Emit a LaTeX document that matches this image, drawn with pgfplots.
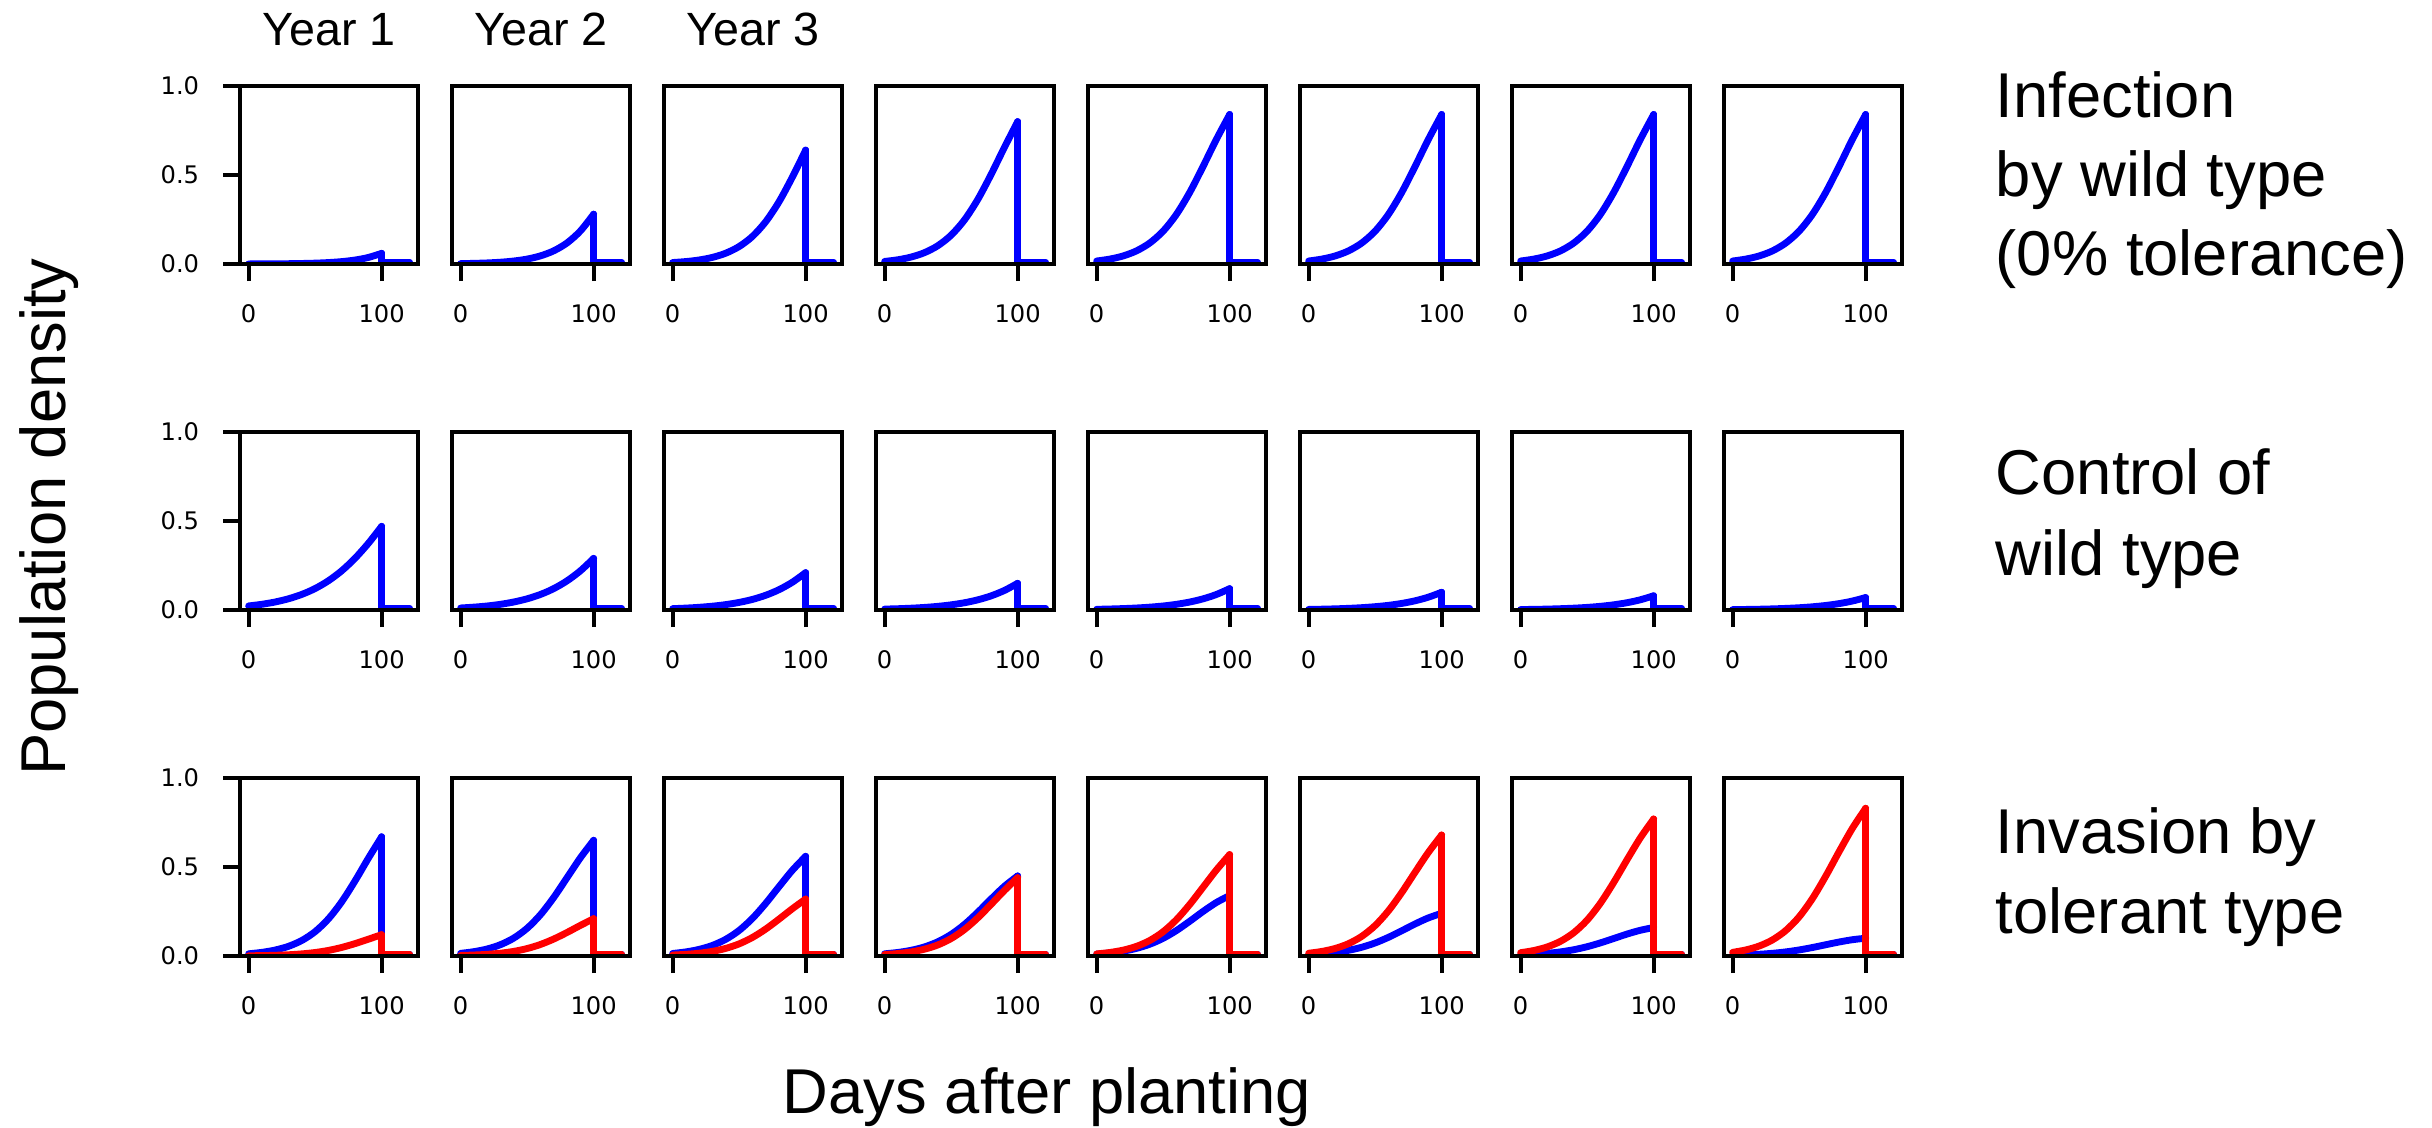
\documentclass[border=0pt]{standalone}
\usepackage{pgfplots}
\pgfplotsset{compat=1.18}
\usepackage{pgfplotstable}
\usepackage{fontspec}
\setmainfont{Liberation Sans}
\newfontfamily\dejavu{DejaVu Sans}

\pgfplotstableread{
t   c1     c2     c3     c4     c5     c6     c7     c8
0   0.0004 0.0022 0.0083 0.0145 0.0169 0.0169 0.0169 0.0169
10  0.0006 0.0037 0.0138 0.0239 0.0278 0.0278 0.0278 0.0278
20  0.0011 0.0061 0.0227 0.0393 0.0455 0.0455 0.0455 0.0455
30  0.0018 0.0102 0.0374 0.0640 0.0740 0.0740 0.0740 0.0740
40  0.0030 0.0169 0.0610 0.1029 0.1184 0.1184 0.1184 0.1184
50  0.0049 0.0278 0.0983 0.1621 0.1849 0.1849 0.1849 0.1849
60  0.0082 0.0457 0.1552 0.2476 0.2793 0.2793 0.2793 0.2793
70  0.0135 0.0742 0.2381 0.3626 0.4027 0.4027 0.4027 0.4027
80  0.0224 0.1186 0.3502 0.5028 0.5483 0.5483 0.5483 0.5483
90  0.0368 0.1855 0.4885 0.6549 0.7003 0.7003 0.7003 0.7003
100 0.060  0.280  0.640  0.800  0.840  0.840  0.840  0.840
}\rowone

\pgfplotstableread{
t   c1     c2     c3     c4     c5     c6     c7     c8
0   0.0229 0.0114 0.0077 0.0052 0.0040 0.0033 0.0026 0.0022
10  0.0322 0.0162 0.0108 0.0073 0.0057 0.0047 0.0037 0.0032
20  0.0452 0.0227 0.0153 0.0103 0.0081 0.0066 0.0052 0.0045
30  0.0632 0.0321 0.0216 0.0146 0.0114 0.0094 0.0074 0.0064
40  0.0877 0.0451 0.0304 0.0206 0.0161 0.0132 0.0104 0.0091
50  0.1208 0.0630 0.0427 0.0291 0.0227 0.0187 0.0147 0.0128
60  0.1645 0.0874 0.0596 0.0408 0.0320 0.0263 0.0208 0.0181
70  0.2207 0.1204 0.0829 0.0571 0.0449 0.0370 0.0293 0.0256
80  0.2909 0.1640 0.1144 0.0795 0.0628 0.0518 0.0411 0.0360
90  0.3747 0.2201 0.1561 0.1098 0.0872 0.0722 0.0575 0.0504
100 0.470  0.290  0.210  0.150  0.120  0.100  0.080  0.070
}\rowtwo

\pgfplotstableread{
t   b1     r1     b2     r2     b3     r3     b4     r4     b5     r5     b6     r6     b7     r7     b8     r8
0   0.0125 0.0014 0.0150 0.0033 0.0143 0.0055 0.0124 0.0083 0.0106 0.0119 0.0080 0.0156 0.0059 0.0188 0.0040 0.0207
10  0.0206 0.0024 0.0245 0.0056 0.0232 0.0094 0.0201 0.0139 0.0171 0.0200 0.0129 0.0259 0.0095 0.0311 0.0063 0.0343
20  0.0337 0.0042 0.0397 0.0095 0.0375 0.0158 0.0323 0.0233 0.0273 0.0332 0.0205 0.0427 0.0150 0.0511 0.0099 0.0562
30  0.0546 0.0071 0.0639 0.0159 0.0599 0.0263 0.0513 0.0384 0.0430 0.0544 0.0321 0.0695 0.0233 0.0828 0.0153 0.0908
40  0.0874 0.0120 0.1011 0.0262 0.0941 0.0430 0.0801 0.0623 0.0664 0.0875 0.0494 0.1109 0.0355 0.1314 0.0232 0.1437
50  0.1371 0.0198 0.1560 0.0420 0.1438 0.0683 0.1215 0.0982 0.0996 0.1365 0.0736 0.1714 0.0524 0.2019 0.0341 0.2202
60  0.2089 0.0315 0.2321 0.0649 0.2116 0.1044 0.1773 0.1489 0.1434 0.2043 0.1051 0.2541 0.0739 0.2973 0.0478 0.3234
70  0.3051 0.0482 0.3292 0.0955 0.2961 0.1517 0.2457 0.2143 0.1955 0.2899 0.1420 0.3569 0.0986 0.4140 0.0634 0.4492
80  0.4223 0.0697 0.4401 0.1323 0.3900 0.2075 0.3203 0.2900 0.2505 0.3865 0.1801 0.4707 0.1234 0.5413 0.0787 0.5860
90  0.5493 0.0945 0.5517 0.1720 0.4817 0.2658 0.3914 0.3681 0.3007 0.4833 0.2142 0.5823 0.1447 0.6643 0.0916 0.7174
100 0.670  0.120  0.650  0.210  0.560  0.320  0.450  0.440  0.340  0.570  0.240  0.680  0.160  0.770  0.100  0.830
}\rowthree

\pgfplotsset{
  panel/.style={
    scale only axis, width=42.72pt, height=42.72pt, anchor=north west,
    xmin=-6.5, xmax=127.3, ymin=0, ymax=1,
    axis on top,
    axis line style={black, line width=0.9pt},
    xtick={0,100}, xticklabels={0,100},
    ytick=\empty,
    tick align=outside, xtick pos=bottom, ytick pos=left,
    major tick length=4.08pt,
    every tick/.style={black, line width=0.9pt},
    tick label style={font=\dejavu\fontsize{5.8}{7}\selectfont},
    /pgf/number format/assume math mode=true,
    xticklabel style={yshift=-2.2pt},
    yticklabel style={xshift=-2.2pt},
  },
  firstcol/.style={ytick={0,0.5,1}, yticklabels={0.0,0.5,1.0}},
  wild/.style={color=blue, line width=1.65pt, line join=round, line cap=round},
  tol/.style={color=red, line width=1.65pt, line join=round, line cap=round},
}

\newcommand{\onepanel}[6]{%
\begin{axis}[panel, at={(#1,#2)}, #3]
\addplot[wild, smooth] table[x=t, y=#5] {#4};
\addplot[wild] coordinates {(100,#6) (100,0.01) (121,0.01)};
\end{axis}}

\newcommand{\twopanel}[7]{%
\begin{axis}[panel, at={(#1,#2)}, #3]
\addplot[wild, smooth] table[x=t, y=#4] {\rowthree};
\addplot[wild] coordinates {(100,#5) (100,0.01) (121,0.01)};
\addplot[tol, smooth] table[x=t, y=#6] {\rowthree};
\addplot[tol] coordinates {(100,#7) (100,0.01) (121,0.01)};
\end{axis}}

\begin{document}
\begin{tikzpicture}
\path[use as bounding box] (0,0) rectangle (583.68pt,-270.48pt);

% Row 1
\onepanel{57.6pt}{-20.64pt}{firstcol}{\rowone}{c1}{0.060}
\onepanel{108.48pt}{-20.64pt}{}{\rowone}{c2}{0.280}
\onepanel{159.36pt}{-20.64pt}{}{\rowone}{c3}{0.640}
\onepanel{210.24pt}{-20.64pt}{}{\rowone}{c4}{0.800}
\onepanel{261.12pt}{-20.64pt}{}{\rowone}{c5}{0.840}
\onepanel{312.0pt}{-20.64pt}{}{\rowone}{c6}{0.840}
\onepanel{362.88pt}{-20.64pt}{}{\rowone}{c7}{0.840}
\onepanel{413.76pt}{-20.64pt}{}{\rowone}{c8}{0.840}

% Row 2
\onepanel{57.6pt}{-103.68pt}{firstcol}{\rowtwo}{c1}{0.470}
\onepanel{108.48pt}{-103.68pt}{}{\rowtwo}{c2}{0.290}
\onepanel{159.36pt}{-103.68pt}{}{\rowtwo}{c3}{0.210}
\onepanel{210.24pt}{-103.68pt}{}{\rowtwo}{c4}{0.150}
\onepanel{261.12pt}{-103.68pt}{}{\rowtwo}{c5}{0.120}
\onepanel{312.0pt}{-103.68pt}{}{\rowtwo}{c6}{0.100}
\onepanel{362.88pt}{-103.68pt}{}{\rowtwo}{c7}{0.080}
\onepanel{413.76pt}{-103.68pt}{}{\rowtwo}{c8}{0.070}

% Row 3
\twopanel{57.6pt}{-186.72pt}{firstcol}{b1}{0.670}{r1}{0.120}
\twopanel{108.48pt}{-186.72pt}{}{b2}{0.650}{r2}{0.210}
\twopanel{159.36pt}{-186.72pt}{}{b3}{0.560}{r3}{0.320}
\twopanel{210.24pt}{-186.72pt}{}{b4}{0.450}{r4}{0.440}
\twopanel{261.12pt}{-186.72pt}{}{b5}{0.340}{r5}{0.570}
\twopanel{312.0pt}{-186.72pt}{}{b6}{0.240}{r6}{0.680}
\twopanel{362.88pt}{-186.72pt}{}{b7}{0.160}{r7}{0.770}
\twopanel{413.76pt}{-186.72pt}{}{b8}{0.100}{r8}{0.830}

% Column titles
\begin{scope}[every node/.style={inner sep=0pt, anchor=base, font=\fontsize{11.2}{13}\selectfont}]
\node at (78.96pt,-10.8pt) {Year 1};
\node at (129.84pt,-10.8pt) {Year 2};
\node at (180.72pt,-10.8pt) {Year 3};
\end{scope}

% Row labels
\begin{scope}[every node/.style={inner sep=0pt, anchor=base west, font=\fontsize{15.2}{18}\selectfont}]
\node at (478.8pt,-28.08pt) {Infection};
\node at (478.8pt,-47.04pt) {by wild type};
\node at (478.8pt,-66.0pt) {(0\% tolerance)};
\node at (478.8pt,-118.56pt) {Control of};
\node at (478.8pt,-138.0pt) {wild type};
\node at (478.8pt,-204.72pt) {Invasion by};
\node at (478.8pt,-223.92pt) {tolerant type};
\end{scope}

% Axis labels
\node[inner sep=0pt, anchor=base, rotate=90, font=\fontsize{15.2}{18}\selectfont] at (15.6pt,-124.08pt) {Population density};
\node[inner sep=0pt, anchor=base, font=\fontsize{15.2}{18}\selectfont] at (251.28pt,-267.12pt) {Days after planting};
\end{tikzpicture}
\end{document}
